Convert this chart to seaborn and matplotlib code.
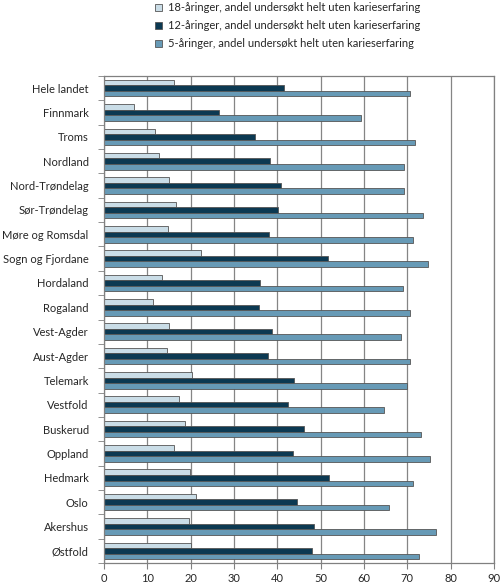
import numpy as np
import pandas as pd
import seaborn as sns
import matplotlib.pyplot as plt

fylker = ["Hele landet", "Finnmark", "Troms", "Nordland", "Nord-Trøndelag",
          "Sør-Trøndelag", "Møre og Romsdal", "Sogn og Fjordane", "Hordaland",
          "Rogaland", "Vest-Agder", "Aust-Agder", "Telemark", "Vestfold",
          "Buskerud", "Oppland", "Hedmark", "Oslo", "Akershus", "Østfold"]
aar18 = [16.2, 7.0, 11.8, 12.8, 15.1, 16.5, 14.8, 22.4, 13.3, 11.2,
         15.0, 14.5, 20.2, 17.3, 18.7, 16.2, 19.9, 21.2, 19.7, 20.1]
aar12 = [41.5, 26.6, 34.9, 38.2, 40.8, 40.2, 38.0, 51.8, 36.0, 35.7,
         38.8, 37.8, 43.8, 42.4, 46.2, 43.5, 52.0, 44.6, 48.5, 48.0]
aar5 = [70.5, 59.4, 71.7, 69.3, 69.3, 73.5, 71.4, 74.8, 69.0, 70.7,
        68.6, 70.5, 70.0, 64.7, 73.2, 75.3, 71.4, 65.7, 76.5, 72.8]
serier = ["18-åringer, andel undersøkt helt uten karieserfaring",
          "12-åringer, andel undersøkt helt uten karieserfaring",
          "5-åringer, andel undersøkt helt uten karieserfaring"]
farger = ["#c5dfec", "#003d5e", "#5a9ec3"]

df = pd.DataFrame({
    "fylke": fylker * 3,
    "verdi": aar18 + aar12 + aar5,
    "serie": [serier[0]] * 20 + [serier[1]] * 20 + [serier[2]] * 20,
})

sns.set_style("white")
plt.rcParams["font.family"] = ["Lato", "DejaVu Sans"]

fig = plt.figure(figsize=(5, 5.87), dpi=100)
# axes: x 104..494 px, y 76..563 px
ax = fig.add_axes([104 / 500, 24 / 587, 390 / 500, 487 / 587])

sns.barplot(data=df, y="fylke", x="verdi", hue="serie", order=fylker,
            hue_order=serier, palette=farger, orient="h", width=0.68,
            edgecolor="#555555", linewidth=0.6, ax=ax, legend=True)

ax.set_xlim(0, 90)
ax.set_ylim(19.5, -0.5)
ax.set_xticks(np.arange(0, 91, 10))
ax.xaxis.grid(True, color="#858585", linewidth=0.9)
ax.set_axisbelow(True)
ax.set_xlabel("")
ax.set_ylabel("")
for s in ax.spines.values():
    s.set_color("#808080")
    s.set_linewidth(0.9)

ax.set_yticks(np.arange(-0.5, 20, 1), minor=True)
ax.tick_params(axis="y", which="major", length=0, labelsize=8, pad=11)
ax.tick_params(axis="y", which="minor", length=4, color="#808080", left=True)
ax.tick_params(axis="x", length=4, color="#808080", labelsize=8, bottom=True, pad=3)

ax.get_legend().remove()
handles, labels = ax.get_legend_handles_labels()
fig.legend(handles, labels, loc="upper left", bbox_to_anchor=(155 / 500, 1 - 2 / 587),
           frameon=False, fontsize=8, handlelength=0.6, handleheight=0.6,
           handletextpad=0.6, labelspacing=0.65, borderpad=0, borderaxespad=0)

plt.savefig("out.png", dpi=100)
